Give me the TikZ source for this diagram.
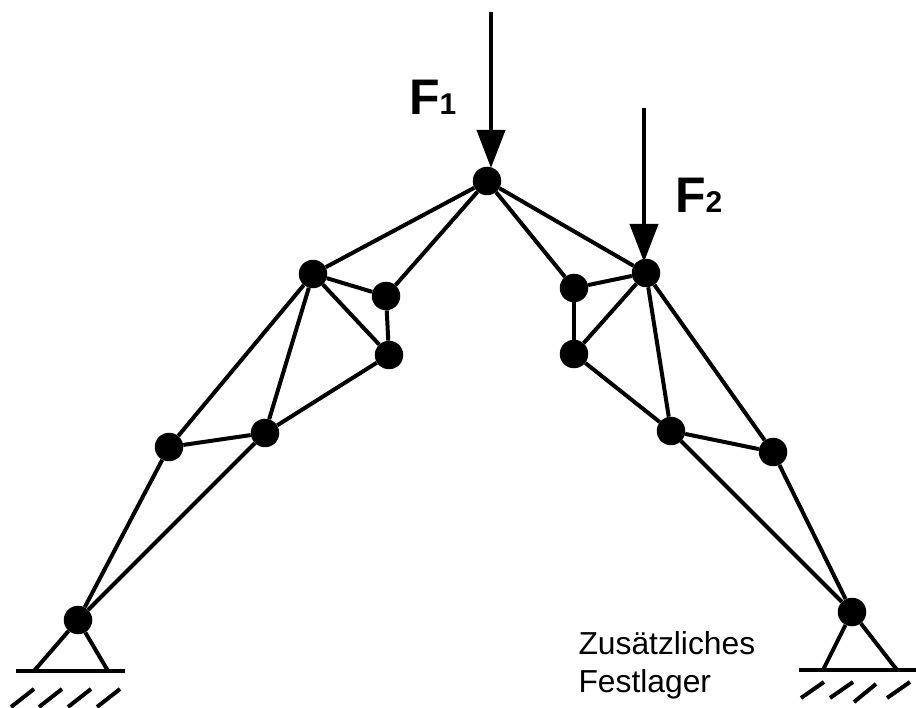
\documentclass[tikz,border=0pt]{standalone}
\usepackage{fontspec}
\setmainfont{Liberation Sans}
\usetikzlibrary{arrows.meta}
\tikzset{
  joint/.style={circle,fill=black,inner sep=0pt,minimum size=28.5pt},
  bar/.style={line width=4pt,black},
  force/.style={line width=4pt,black,-{Triangle[length=38pt,width=28pt]}},
  lbl/.style={anchor=base west,inner sep=0pt,outer sep=0pt,font=\fontsize{50}{50}\selectfont\bfseries},
  note/.style={anchor=base west,inner sep=0pt,outer sep=0pt,font=\fontsize{31.8}{32}\selectfont}
}
\newcommand{\subidx}[1]{{\fontsize{30}{30}\selectfont #1}}
\begin{document}
\begin{tikzpicture}[x=1pt,y=-1pt]
\useasboundingbox (0,0) rectangle (916,708);
% joints
\node[joint] (T) at (487,181) {};
\node[joint] (La) at (313,274) {};
\node[joint] (Lb) at (386,296) {};
\node[joint] (Lc) at (389,355) {};
\node[joint] (Ld) at (265,433) {};
\node[joint] (Le) at (169,447) {};
\node[joint] (Lf) at (78,620) {};
\node[joint] (Ra) at (646,273) {};
\node[joint] (Rb) at (574,288) {};
\node[joint] (Rc) at (574,354) {};
\node[joint] (Rd) at (671,431) {};
\node[joint] (Re) at (773,452) {};
\node[joint] (Rf) at (852,612) {};
% bars
\foreach \p/\q in {T/La,T/Lb,T/Rb,T/Ra,La/Lb,La/Lc,Lb/Lc,La/Ld,La/Le,Lc/Ld,Le/Ld,Le/Lf,Ld/Lf,
  Rb/Ra,Rb/Rc,Rc/Ra,Rc/Rd,Ra/Rd,Ra/Re,Rd/Re,Rd/Rf,Re/Rf}
  \draw[bar] (\p) -- (\q);
% forces
\coordinate (F1s) at (491,12);
\coordinate (F1e) at (491,168);
\coordinate (F2s) at (644,108);
\coordinate (F2e) at (644,262);
\draw[force] (F1s) -- (F1e);
\draw[force] (F2s) -- (F2e);
\node[lbl] (F1) at (409,115) {F\subidx{1}};
\node[lbl] (F2) at (675,213) {F\subidx{2}};
% left support
\coordinate (LfootA) at (34,671);
\coordinate (LfootB) at (108,671);
\coordinate (LbaseA) at (16,671);
\coordinate (LbaseB) at (125,671);
\draw[bar] (Lf) -- (LfootA);
\draw[bar] (Lf) -- (LfootB);
\draw[bar] (LbaseA) -- (LbaseB);
\foreach \x in {11,39,68,97}
  \draw[bar] (\x,707) -- (\x+23,689);
% right support
\coordinate (RfootA) at (823,670);
\coordinate (RfootB) at (897,670);
\coordinate (RbaseA) at (799,670);
\coordinate (RbaseB) at (916,670);
\draw[bar] (Rf) -- (RfootA);
\draw[bar] (Rf) -- (RfootB);
\draw[bar] (RbaseA) -- (RbaseB);
\draw[bar] (801,698) -- (824,682);
\draw[bar] (830,698) -- (853,682);
\draw[bar] (854,702) -- (876,684);
\draw[bar] (887,698) -- (910,682);
% note
\node[note] (N1) at (578.5,654) {Zusätzliches};
\node[note] (N2) at (578.5,692) {Festlager};
\end{tikzpicture}
\end{document}
